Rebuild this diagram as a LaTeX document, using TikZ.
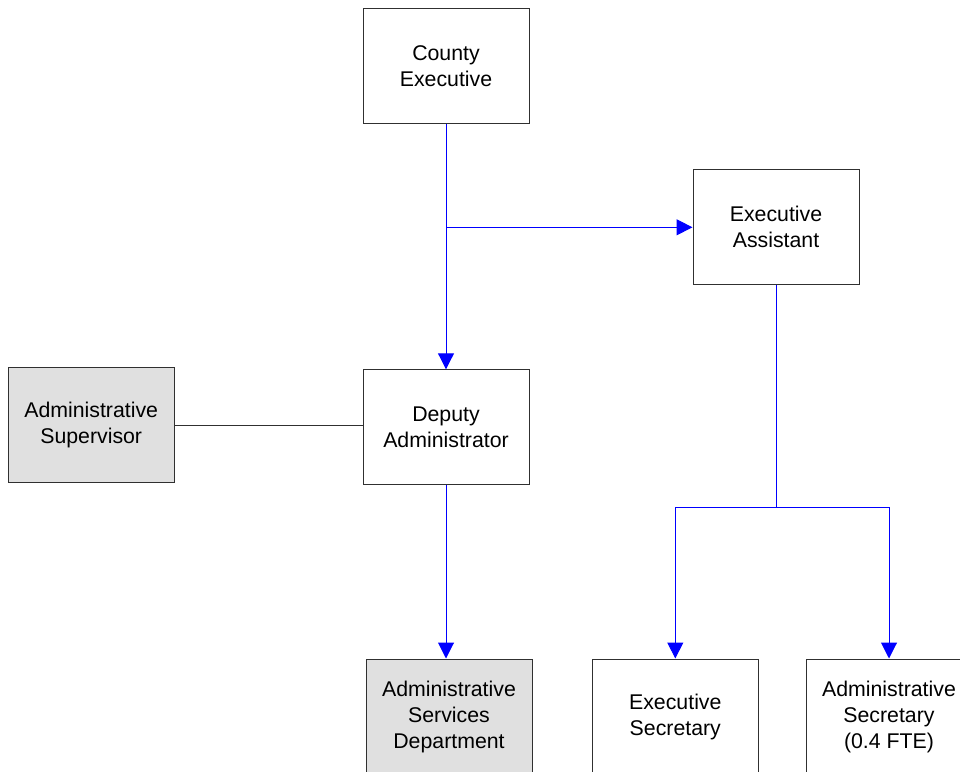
\documentclass[tikz,border=0pt]{standalone}
\usepackage{fontspec}
\setmainfont{Liberation Sans}
\usetikzlibrary{arrows.meta}
\definecolor{boxgray}{HTML}{E0E0E0}
\definecolor{edgegray}{HTML}{303030}
\begin{document}
\begin{tikzpicture}[x=1pt,y=-1pt,
  orgbox/.style={draw=edgegray, line width=1pt, fill=white, minimum width=166pt, minimum height=115pt,
    inner sep=0pt, align=center, font=\fontsize{21.3}{26}\selectfont},
  graybox/.style={orgbox, fill=boxgray},
  link/.style={draw=blue, line width=1pt},
  arr/.style={link, -{Triangle[length=16pt,width=16pt]}}]
\clip (0,0) rectangle (960,771);
\fill[white] (0,0) rectangle (960,771);
\node[orgbox] (ce) at (446,65.8) {County\\Executive};
\node[orgbox] (ea) at (776,227.3) {Executive\\Assistant};
\node[graybox] (as) at (91.2,425.3) {Administrative\\Supervisor};
\node[orgbox] (da) at (446,427.3) {Deputy\\Administrator};
\node[graybox] (asd) at (449,716.5) {Administrative\\Services\\Department};
\node[orgbox] (es) at (675.3,716.5) {Executive\\Secretary};
\node[orgbox] (ads) at (889,716.5) {Administrative\\Secretary\\(0.4 FTE)};
\coordinate (j1) at (ce.south |- ea.west);
\coordinate (j2) at (776,507.3);
\draw[arr] (ce.south) -- (da.north);
\draw[arr] (j1) -- (ea.west);
\draw[link] (ea.south) -- (j2);
\draw[arr] (j2) -| (es.north);
\draw[arr] (j2) -| (ads.north);
\draw[arr] (da.south) -- (da.south |- asd.north);
\draw[edgegray, line width=1pt] (as.east) -- (as.east -| da.west);
\end{tikzpicture}
\end{document}
